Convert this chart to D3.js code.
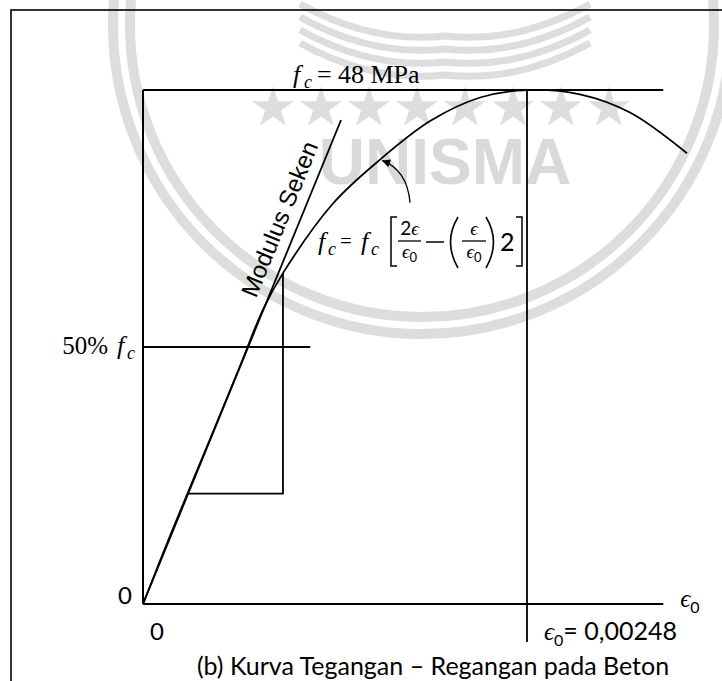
<!DOCTYPE html>
<html>
<head>
<meta charset="utf-8">
<script src="https://cdn.jsdelivr.net/npm/d3@7"></script>
<style>
  html, body { margin: 0; padding: 0; background: #fff; }
  svg { display: block; }
  text { white-space: pre; }
</style>
</head>
<body>
<svg id="chart" width="722" height="681"></svg>
<script>
// Stress–strain curve of concrete: strain (mm/mm) against stress (MPa)
const curveStrain = [0, 0.000174, 0.000433, 0.000626, 0.000775, 0.000904, 0.001227,
                     0.001531, 0.001854, 0.002177, 0.00248, 0.002822, 0.003145, 0.003513];
const curveStress = [0, 6.35, 15.4, 22.2, 27.5, 30.9, 37.4,
                     41.5, 45.1, 47.3, 48.0, 47.6, 45.9, 42.1];

// Secant modulus line
const secantStrain = [0, 0.001279];
const secantStress = [0, 45.2];

// Reference values
const peakStress = 48;        // f'c
const peakStrain = 0.00248;   // epsilon_0
const halfStress = 24;        // 50% f'c
const halfLineStrain = 0.00108;
const axisEndStrain = 0.00336;

// Construction box under the curve
const boxStrain = [0.000291, 0.000904, 0.000904];
const boxStress = [10.3, 10.3, 30.9];

// Index of the curve point that the formula arrow points at
const arrowPointIndex = 7;

// Text
const peakLabel = "48 MPa";
const halfLabel = "50%";
const strainValueLabel = "= 0,00248";
const secantLabel = "Modulus Seken";
const caption = "(b) Kurva Tegangan \u2013 Regangan pada Beton";
const watermarkText = "UNISMA";

const serif = "'Liberation Serif', 'Times New Roman', serif";
const mathFont = "'Liberation Serif', 'DejaVu Serif', serif";
const sans = "Lato, 'Open Sans', sans-serif";
const EPS = "\u03F5";

const svg = d3.select("#chart");

const x = d3.scaleLinear().domain([0, peakStrain]).range([143, 527]);
const y = d3.scaleLinear().domain([0, peakStress]).range([604, 90]);

// ---------- faint emblem in the background ----------
const wm = svg.append("g").attr("class", "emblem");
const wmColor = "#dddddd";
[292, 309].forEach(r => {
  wm.append("circle").attr("cx", 422).attr("cy", 25).attr("r", r)
    .attr("fill", "none").attr("stroke", wmColor).attr("stroke-width", 10);
});
// open-book chevrons
[0, 1, 2, 3].forEach(k => {
  const y0 = 4 + k * 13;
  wm.append("path")
    .attr("d", `M300,${y0} Q372,${y0 + 40} 445,${y0 + 32} Q518,${y0 + 40} 590,${y0}`)
    .attr("fill", "none").attr("stroke", wmColor).attr("stroke-width", 7);
});
// row of stars
const star = d3.symbol().type(d3.symbolStar).size(540);
d3.range(8).forEach(i => {
  wm.append("path").attr("d", star())
    .attr("transform", `translate(${273 + i * 48},${108})`)
    .attr("fill", wmColor);
});
wm.append("text").attr("x", 445).attr("y", 184)
  .attr("text-anchor", "middle")
  .attr("font-family", "'Liberation Sans', Arial, sans-serif")
  .attr("font-weight", "bold").attr("font-size", 64)
  .attr("fill", "#d9d9d9").text(watermarkText);

// ---------- outer frame ----------
svg.append("rect").attr("x", 11).attr("y", 10).attr("width", 740).attr("height", 700)
  .attr("fill", "none").attr("stroke", "#000").attr("stroke-width", 1.6);

const ink = svg.append("g").attr("stroke", "#000").attr("fill", "none");

// axes
ink.append("line").attr("x1", x(0)).attr("x2", x(axisEndStrain))
  .attr("y1", y(0)).attr("y2", y(0)).attr("stroke-width", 2);
ink.append("line").attr("x1", x(0)).attr("x2", x(0))
  .attr("y1", y(0)).attr("y2", y(peakStress)).attr("stroke-width", 2);

// f'c level
ink.append("line").attr("x1", x(0)).attr("x2", x(axisEndStrain))
  .attr("y1", y(peakStress)).attr("y2", y(peakStress)).attr("stroke-width", 1.8);

// epsilon_0 vertical
ink.append("line").attr("x1", x(peakStrain)).attr("x2", x(peakStrain))
  .attr("y1", y(peakStress)).attr("y2", y(0) + 38).attr("stroke-width", 1.8);

// 50% f'c level
ink.append("line").attr("x1", x(0)).attr("x2", x(halfLineStrain))
  .attr("y1", y(halfStress)).attr("y2", y(halfStress)).attr("stroke-width", 1.8);

// construction box
ink.append("path")
  .attr("d", d3.line().x((d, i) => x(boxStrain[i])).y((d, i) => y(boxStress[i]))(boxStrain))
  .attr("stroke-width", 1.8);

// secant line
ink.append("path")
  .attr("d", d3.line().x((d, i) => x(secantStrain[i])).y((d, i) => y(secantStress[i]))(secantStrain))
  .attr("stroke-width", 1.8);

// stress-strain curve
ink.append("path")
  .attr("d", d3.line().curve(d3.curveCatmullRom.alpha(0.5))
    .x((d, i) => x(curveStrain[i])).y((d, i) => y(curveStress[i]))(curveStrain))
  .attr("stroke-width", 1.8);

// arrow from the formula to the curve
svg.append("defs").append("marker").attr("id", "head")
  .attr("viewBox", "0 0 10 10").attr("refX", 10).attr("refY", 5)
  .attr("markerUnits", "userSpaceOnUse").attr("markerWidth", 10).attr("markerHeight", 8)
  .attr("orient", "auto")
  .append("path").attr("d", "M0,0 L10,5 L0,10 z").attr("fill", "#000");
const ax = x(curveStrain[arrowPointIndex]), ay = y(curveStress[arrowPointIndex]);
ink.append("path")
  .attr("d", `M${ax + 30},${ay + 43} Q${ax + 27},${ay + 10} ${ax + 2},${ay + 1}`)
  .attr("stroke-width", 1.3).attr("marker-end", "url(#head)");

// ---------- labels ----------
const italic = (parent, tx, ty, size, s) => parent.append("text").attr("x", tx).attr("y", ty)
  .attr("font-family", mathFont).attr("font-style", "italic").attr("font-size", size).text(s);

// f'c = 48 MPa
italic(svg, 293, 83, 26, "f");
italic(svg, 304, 88, 18, "c");
svg.append("text").attr("x", 317).attr("y", 83).attr("font-family", serif)
  .attr("font-size", 26).text("=");
svg.append("text").attr("x", 338).attr("y", 83).attr("font-family", serif)
  .attr("font-size", 26).text(peakLabel);

// 50% f'c
svg.append("text").attr("x", 108).attr("y", y(halfStress) + 7)
  .attr("text-anchor", "end").attr("font-family", serif).attr("font-size", 25).text(halfLabel);
italic(svg, 117, y(halfStress) + 7, 26, "f");
italic(svg, 127, y(halfStress) + 12, 18, "c");

// zeros
svg.append("text").attr("x", x(0) - 11).attr("y", y(0))
  .attr("text-anchor", "end").attr("font-family", sans).attr("font-size", 24).text("0");
svg.append("text").attr("x", x(0) + 14).attr("y", y(0) + 36)
  .attr("text-anchor", "middle").attr("font-family", sans).attr("font-size", 24).text("0");

// epsilon_0 at the end of the strain axis
const tAxis = svg.append("text").attr("x", x(axisEndStrain) + 17).attr("y", y(0) + 3)
  .attr("font-family", mathFont).attr("font-size", 25);
tAxis.append("tspan").attr("font-style", "italic").text(EPS);
tAxis.append("tspan").attr("font-family", sans).attr("font-size", 16).attr("dy", 6).text("0");

// epsilon_0 value
const tEps = svg.append("text").attr("x", x(peakStrain) + 17).attr("y", y(0) + 36)
  .attr("font-family", mathFont).attr("font-size", 25);
tEps.append("tspan").attr("font-style", "italic").text(EPS);
tEps.append("tspan").attr("font-family", sans).attr("font-size", 16).attr("dy", 6).text("0");
tEps.append("tspan").attr("font-family", sans).attr("font-size", 25).attr("dy", -6).text(strainValueLabel);

// secant label along the line
{
  const x0 = x(secantStrain[0]), y0 = y(secantStress[0]);
  const x1 = x(secantStrain[1]), y1 = y(secantStress[1]);
  const len = Math.hypot(x1 - x0, y1 - y0);
  const ux = (x1 - x0) / len, uy = (y1 - y0) / len;
  const ang = Math.atan2(y1 - y0, x1 - x0) * 180 / Math.PI;
  const t = 0.78;
  const bx = x0 + (x1 - x0) * t + uy * 11, by = y0 + (y1 - y0) * t - ux * 11;
  svg.append("text").attr("transform", `translate(${bx},${by}) rotate(${ang})`)
    .attr("text-anchor", "middle")
    .attr("font-family", "'Liberation Sans', Arial, sans-serif").attr("font-size", 24)
    .text(secantLabel);
}

// formula f_c = f_c [ 2e/e0 - (e/e0) 2 ]
{
  const g = svg.append("g");
  italic(g, 318, 250, 26, "f");
  italic(g, 328, 255, 18, "c");
  g.append("text").attr("x", 340).attr("y", 248).attr("font-family", serif)
    .attr("font-size", 21).text("=");
  italic(g, 361, 250, 26, "f");
  italic(g, 371, 255, 18, "c");

  const pen = g.append("g").attr("stroke", "#000").attr("fill", "none");
  pen.append("path").attr("d", "M397,217 H391 V266 H397").attr("stroke-width", 1.5);
  pen.append("path").attr("d", "M516,217 H522 V266 H516").attr("stroke-width", 1.5);
  pen.append("path").attr("d", "M458,217 Q443,242 458,268").attr("stroke-width", 1.6);
  pen.append("path").attr("d", "M486,217 Q501,242 486,268").attr("stroke-width", 1.6);
  pen.append("line").attr("x1", 398).attr("x2", 421).attr("y1", 241).attr("y2", 241).attr("stroke-width", 1.3);
  pen.append("line").attr("x1", 462).attr("x2", 486).attr("y1", 241).attr("y2", 241).attr("stroke-width", 1.3);
  pen.append("line").attr("x1", 426).attr("x2", 444).attr("y1", 242).attr("y2", 242).attr("stroke-width", 1.5);

  const frac = (cx, num) => {
    const n = g.append("text").attr("x", cx).attr("y", 235).attr("text-anchor", "middle")
      .attr("font-family", mathFont).attr("font-size", 19);
    if (num.length > 1) n.append("tspan").attr("font-family", sans).text(num[0]);
    n.append("tspan").attr("font-style", "italic").text(EPS);
    const d = g.append("text").attr("x", cx).attr("y", 258).attr("text-anchor", "middle")
      .attr("font-family", mathFont).attr("font-size", 19);
    d.append("tspan").attr("font-style", "italic").text(EPS);
    d.append("tspan").attr("font-family", sans).attr("font-size", 13).attr("dy", 4).text("0");
  };
  frac(409.5, "2" + EPS);
  frac(474, EPS);
  g.append("text").attr("x", 500).attr("y", 251).attr("font-family", sans)
    .attr("font-size", 25).text("2");
}

// caption
svg.append("text").attr("x", 433).attr("y", 675).attr("text-anchor", "middle")
  .attr("font-family", sans).attr("font-size", 25).text(caption);
</script>
</body>
</html>
